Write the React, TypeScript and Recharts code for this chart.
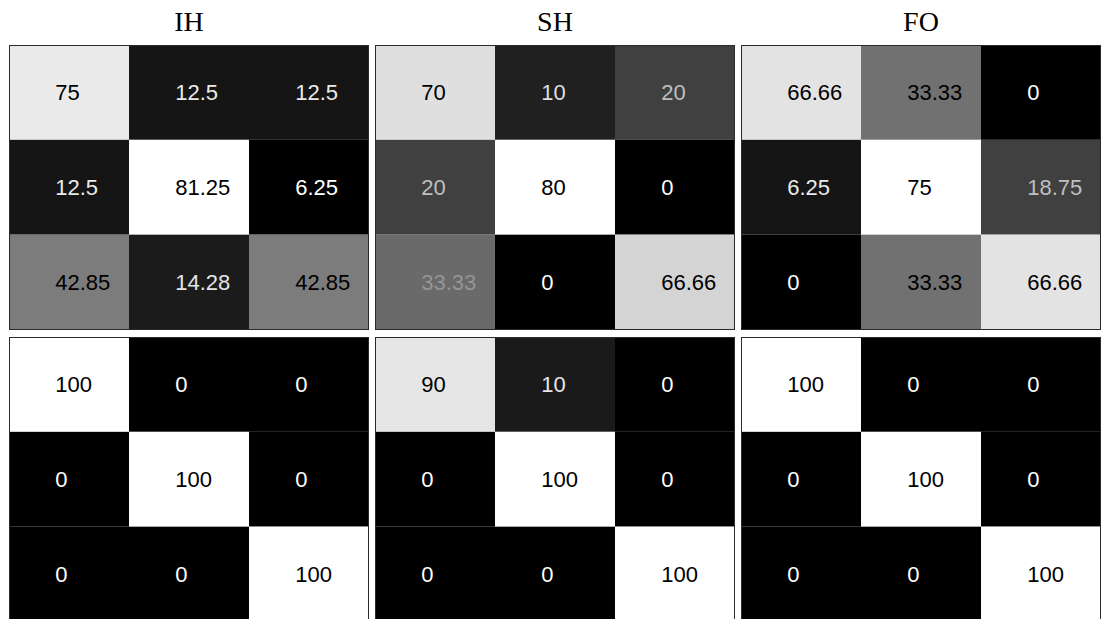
import React from "react";
import { ScatterChart, Scatter, XAxis, YAxis } from "recharts";

// confusion matrices (row = true class, col = predicted), in percent
const classNames = ["IH", "SH", "FO"];

const ihTop = [
  [75, 12.5, 12.5],
  [12.5, 81.25, 6.25],
  [42.85, 14.28, 42.85],
];
const shTop = [
  [70, 10, 20],
  [20, 80, 0],
  [33.33, 0, 66.66],
];
const foTop = [
  [66.66, 33.33, 0],
  [6.25, 75, 18.75],
  [0, 33.33, 66.66],
];

const ihBottom = [
  [100, 0, 0],
  [0, 100, 0],
  [0, 0, 100],
];
const shBottom = [
  [90, 10, 0],
  [0, 100, 0],
  [0, 0, 100],
];
const foBottom = [
  [100, 0, 0],
  [0, 100, 0],
  [0, 0, 100],
];

const topRow = [ihTop, shTop, foTop];
const bottomRow = [ihBottom, shBottom, foBottom];

const PANEL_W = 360;
const PANEL_H = 284.5;
const CELL_W = PANEL_W / 3;
const CELL_H = PANEL_H / 3;

type CellPoint = { x: number; y: number; v: number; t: number };

function toPoints(m: number[][]): CellPoint[] {
  const flat = m.flat();
  const lo = Math.min(...flat);
  const hi = Math.max(...flat);
  const pts: CellPoint[] = [];
  m.forEach((row, r) =>
    row.forEach((v, c) => {
      pts.push({ x: c + 0.5, y: r + 0.5, v, t: hi > lo ? (v - lo) / (hi - lo) : 0 });
    })
  );
  return pts;
}

const gray = (t: number) => {
  const g = Math.round(255 * Math.max(0, Math.min(1, t)));
  return `rgb(${g},${g},${g})`;
};

function HeatCell(props: any) {
  const { cx, cy, payload } = props;
  if (cx == null || cy == null) return null;
  const t: number = payload.t;
  const textFill = t >= 0.43 ? "#000" : gray(1 - t);
  return (
    <g>
      <rect
        x={cx - CELL_W / 2}
        y={cy - CELL_H / 2}
        width={CELL_W}
        height={CELL_H}
        fill={gray(t)}
      />
      <text
        x={cx - CELL_W * 0.115}
        y={cy}
        dominantBaseline="central"
        textAnchor="start"
        fontFamily="'Liberation Sans', Arial, sans-serif"
        fontSize={22}
        fill={textFill}
      >
        {String(payload.v)}
      </text>
    </g>
  );
}

function Panel({ m, left, top }: { m: number[][]; left: number; top: number }) {
  return (
    <div style={{ position: "absolute", left, top, width: PANEL_W, height: PANEL_H }}>
      <ScatterChart width={PANEL_W} height={PANEL_H} margin={{ top: 0, right: 0, bottom: 0, left: 0 }}>
        <XAxis type="number" dataKey="x" domain={[0, 3]} hide />
        <YAxis type="number" dataKey="y" domain={[0, 3]} reversed hide />
        <Scatter data={toPoints(m)} shape={HeatCell} isAnimationActive={false} />
      </ScatterChart>
      <div
        style={{
          position: "absolute",
          inset: 0,
          border: "1px solid #2a2a2a",
          pointerEvents: "none",
        }}
      />
    </div>
  );
}

export default function App() {
  const lefts = [9, 375, 741];
  return (
    <div
      style={{
        position: "absolute",
        left: 0,
        top: 0,
        width: 1102,
        height: 619,
        overflow: "hidden",
        background: "#fff",
      }}
    >
      {classNames.map((name, i) => (
        <div
          key={name}
          style={{
            position: "absolute",
            left: lefts[i],
            top: 5,
            width: PANEL_W,
            textAlign: "center",
            fontFamily: "'Liberation Serif', 'Times New Roman', serif",
            fontSize: 28,
            lineHeight: "34px",
          }}
        >
          {name}
        </div>
      ))}
      {topRow.map((m, i) => (
        <Panel key={`t${i}`} m={m} left={lefts[i]} top={45} />
      ))}
      {bottomRow.map((m, i) => (
        <Panel key={`b${i}`} m={m} left={lefts[i]} top={337} />
      ))}
    </div>
  );
}
